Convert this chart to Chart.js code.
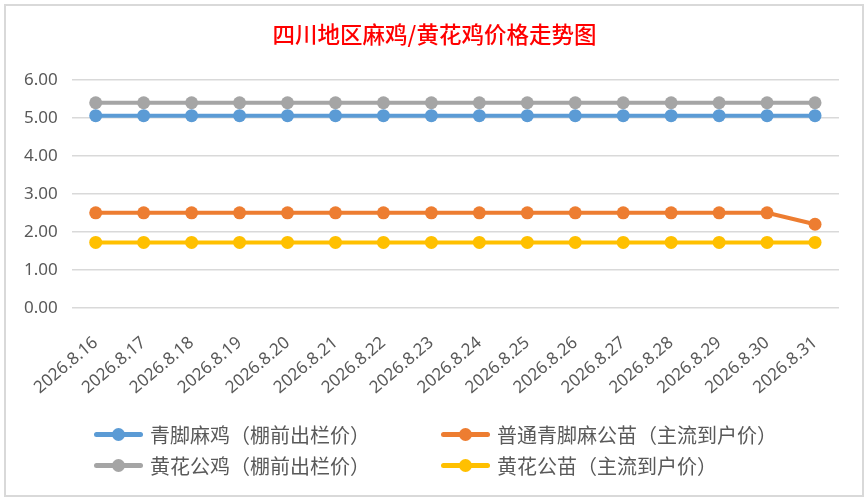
<!DOCTYPE html>
<html><head><meta charset="utf-8">
<script src="https://cdn.jsdelivr.net/npm/chart.js@4/dist/chart.umd.min.js"></script>
<style>
html,body{margin:0;padding:0;background:#fff;}
#wrap{position:relative;width:868px;height:503px;overflow:hidden;}
#c{position:absolute;left:0;top:0;}
#frame{position:absolute;left:4px;top:4px;width:860px;height:493px;border:2px solid #d9d9d9;box-sizing:border-box;pointer-events:none;}
#title{position:absolute;left:0;width:869px;top:18px;height:30px;line-height:30px;text-align:center;font-family:"Noto Sans CJK SC",sans-serif;font-size:22.5px;font-weight:500;color:#FF0000;white-space:nowrap;}
.lg{position:absolute;display:flex;align-items:center;font-family:"Noto Sans CJK SC",sans-serif;font-size:20px;color:#595959;white-space:nowrap;}
.lg .sw{position:relative;width:49px;height:13px;margin-right:7px;}
.lg .sw .ln{position:absolute;left:0;top:4px;width:49px;height:5px;border-radius:2.5px;}
.lg .sw .dt{position:absolute;left:18px;top:0;width:13px;height:13px;border-radius:50%;}
</style></head>
<body>
<div id="wrap">
<canvas id="c" width="868" height="503"></canvas>
<div id="frame"></div>
<div id="title"></div>
<div id="legend"></div>
</div>
<script>
const chartTitle = '四川地区麻鸡/黄花鸡价格走势图';
const categories = ['2026.8.16','2026.8.17','2026.8.18','2026.8.19','2026.8.20','2026.8.21','2026.8.22','2026.8.23','2026.8.24','2026.8.25','2026.8.26','2026.8.27','2026.8.28','2026.8.29','2026.8.30','2026.8.31'];
const qingjiaoMaji = [5.06,5.06,5.06,5.06,5.06,5.06,5.06,5.06,5.06,5.06,5.06,5.06,5.06,5.06,5.06,5.06];
const putongGongmiao = [2.5,2.5,2.5,2.5,2.5,2.5,2.5,2.5,2.5,2.5,2.5,2.5,2.5,2.5,2.5,2.2];
const huanghuaGongji = [5.4,5.4,5.4,5.4,5.4,5.4,5.4,5.4,5.4,5.4,5.4,5.4,5.4,5.4,5.4,5.4];
const huanghuaGongmiao = [1.72,1.72,1.72,1.72,1.72,1.72,1.72,1.72,1.72,1.72,1.72,1.72,1.72,1.72,1.72,1.72];
const seriesNames = ['青脚麻鸡（棚前出栏价）','普通青脚麻公苗（主流到户价）','黄花公鸡（棚前出栏价）','黄花公苗（主流到户价）'];
const yTicks = [0,1,2,3,4,5,6];
const colors = ['#5B9BD5','#ED7D31','#A5A5A5','#FFC000'];
const allSeries = [qingjiaoMaji, putongGongmiao, huanghuaGongji, huanghuaGongmiao];

document.getElementById('title').textContent = chartTitle;

const datasets = allSeries.map((d,i)=>({
  label: seriesNames[i], data: d,
  borderColor: colors[i], backgroundColor: colors[i],
  borderWidth: 4, pointRadius: 6.5, pointBorderWidth: 0, pointHoverRadius: 6.5,
  tension: 0
}));

const chart = new Chart(document.getElementById('c'), {
  type: 'line',
  data: { labels: categories, datasets },
  options: {
    responsive: false, animation: false,
    layout: { padding: { left: 10, right: 29, top: 80, bottom: 88 } },
    plugins: {
      legend: { display: false },
      tooltip: { enabled: false },
      title: { display: false }
    },
    scales: {
      x: { offset: true, grid: { display: false }, border: { display: false },
        ticks: { color: '#595959', font: { family: '"Noto Sans"', size: 17 }, maxRotation: 40, minRotation: 40, autoSkip: false, padding: 17 } },
      y: { min: 0, max: 6, afterBuildTicks: ax => { ax.ticks = yTicks.map(v=>({value:v})); },
        grid: { color: '#d9d9d9', lineWidth: 1.5, drawTicks: false }, border: { display: false },
        ticks: { color: '#595959', font: { family: '"Noto Sans"', size: 17 }, padding: 14, callback: v => Number(v).toFixed(2) } }
    }
  }
});

const lg = document.getElementById('legend');
const pos = [[94,434],[441,434],[94,465],[441,465]];
chart.data.datasets.forEach((ds,i)=>{
  const el = document.createElement('div');
  el.className = 'lg';
  el.style.left = pos[i][0]+'px';
  el.style.top = (pos[i][1]-14)+'px';
  el.style.height = '28px';
  el.innerHTML = '<div class="sw"><div class="ln" style="background:'+ds.borderColor+'"></div><div class="dt" style="background:'+ds.borderColor+'"></div></div><span>'+ds.label+'</span>';
  lg.appendChild(el);
});
</script>
</body></html>
